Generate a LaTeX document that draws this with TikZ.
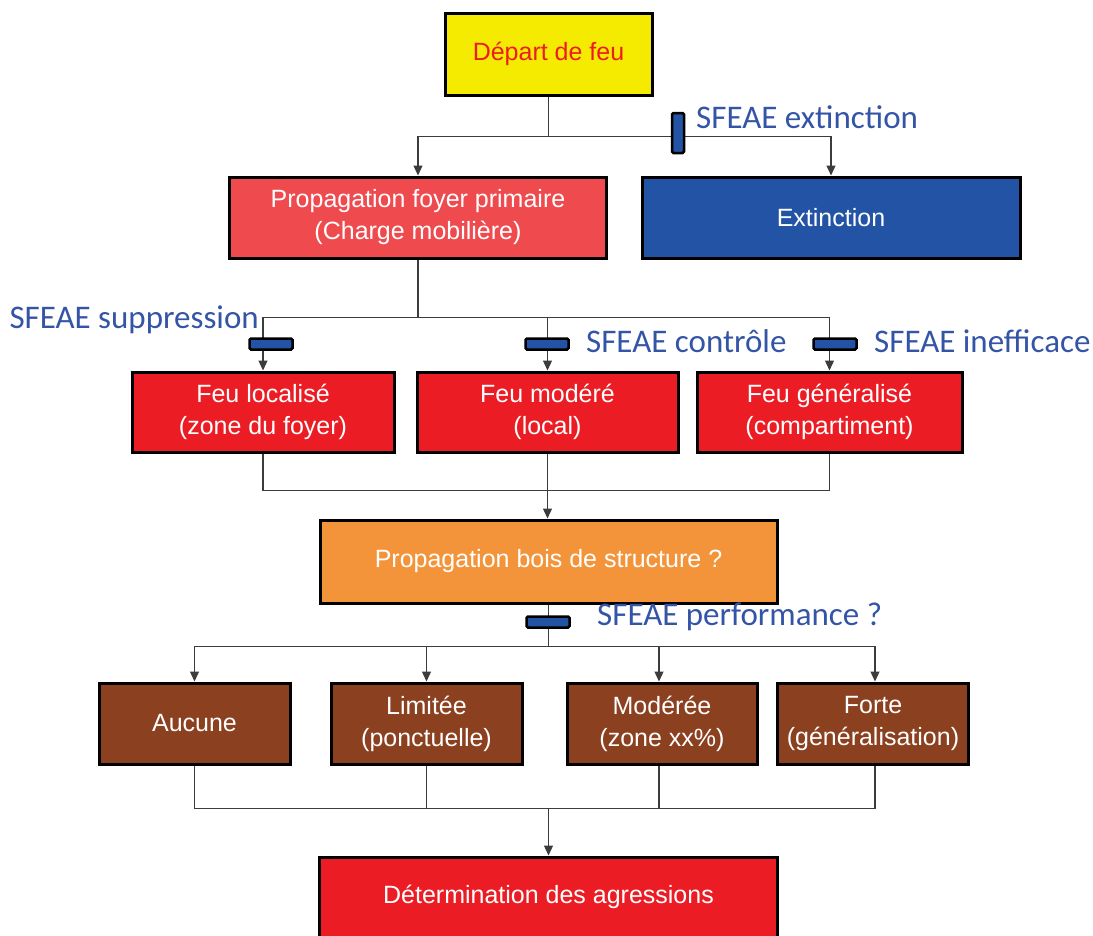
\documentclass[tikz,border=0pt]{standalone}
\usepackage{fontspec}
\setmainfont{Liberation Sans}
\newfontfamily\lblfont{Carlito}
\usetikzlibrary{arrows.meta,calc}
\definecolor{cyellow}{RGB}{245,235,0}
\definecolor{cpink}{RGB}{239,74,78}
\definecolor{cblue}{RGB}{35,83,165}
\definecolor{cred}{RGB}{236,28,36}
\definecolor{corange}{RGB}{244,148,58}
\definecolor{cbrown}{RGB}{139,64,32}
\definecolor{clbl}{RGB}{52,84,166}
\definecolor{cline}{RGB}{60,60,60}
\tikzset{
  box/.style={draw=black, line width=3pt, rectangle, align=center, text=white,
    font=\fontsize{25}{32}\selectfont, inner sep=0pt},
  conn/.style={draw=cline, line width=1.2pt},
  arr/.style={conn, -{Triangle[length=10pt,width=9pt]}},
  marker/.style={draw=black, fill=cblue, line width=2.5pt, rounded corners=1.5pt, inner sep=0pt},
  lbl/.style={text=clbl, font=\lblfont\fontsize{33}{38}\selectfont, inner sep=0pt}
}
\begin{document}
\begin{tikzpicture}[x=1pt,y=-1pt]
\useasboundingbox (0,0) rectangle (1093,935);
% boxes
\node[box, fill=cyellow, text=cred, minimum width=207, minimum height=82] (depart) at (548.5,54) {Départ de feu};
\node[box, fill=cpink, minimum width=377, minimum height=81] (foyer) at (418,217.5) {Propagation foyer primaire\\(Charge mobilière)};
\node[box, fill=cblue, minimum width=378, minimum height=81] (ext) at (831,217.5) {Extinction};
\node[box, fill=cred, minimum width=262, minimum height=80] (loc) at (263,412) {Feu localisé\\(zone du foyer)};
\node[box, fill=cred, minimum width=261, minimum height=80] (mod) at (547.5,412) {Feu modéré\\(local)};
\node[box, fill=cred, minimum width=265, minimum height=80] (gen) at (829.5,412) {Feu généralisé\\(compartiment)};
\node[box, fill=corange, minimum width=457, minimum height=83] (bois) at (548.5,561.5) {Propagation bois de structure ?};
\node[box, fill=cbrown, minimum width=191, minimum height=81] (aucune) at (194.5,723.5) {Aucune};
\node[box, fill=cbrown, minimum width=191, minimum height=81] (lim) at (426.5,723.5) {Limitée\\(ponctuelle)};
\node[box, fill=cbrown, minimum width=190, minimum height=81] (moder) at (662,723.5) {Modérée\\(zone xx\%)};
\node[box, fill=cbrown, minimum width=191, minimum height=81] (forte) at (873,723.5) {Forte\\(généralisation)};
\node[box, fill=cred, minimum width=458, minimum height=96] (deter) at (548.5,905) {};
\node[box, draw=none, fill=none] (detertxt) at (548.5,897) {Détermination des agressions};
% junctions
\coordinate (j1) at ($(depart.south)+(0,40)$);
\coordinate (j2) at ($(foyer.south)+(0,58)$);
\coordinate (j3) at ($(mod.south)+(0,37)$);
\coordinate (j4) at ($(bois.south)+(0,42)$);
\coordinate (j5) at ($(deter.north)+(0,-47)$);
% level 1
\draw[conn] (depart.south) -- (j1);
\draw[arr] (j1) -| (foyer.north);
\draw[arr] (j1) -| (ext.north);
\node[marker, minimum width=12, minimum height=40] (m1) at (678,133) {};
\node[lbl, anchor=west] (l1) at (696,117) {SFEAE extinction};
% level 2
\draw[conn] (foyer.south) -- (j2);
\draw[arr] (j2) -| (loc.north);
\draw[arr] (j2) -| (mod.north);
\draw[arr] (j2) -| (gen.north);
\node[marker, minimum width=43, minimum height=11] (m2) at (271,344) {};
\node[marker, minimum width=43, minimum height=11] (m3) at (547,344) {};
\node[marker, minimum width=43, minimum height=11] (m4) at (835,344) {};
\node[lbl, anchor=east] (l2) at (259,320) {SFEAE suppression};
\node[lbl, anchor=west] (l3) at (586,341) {SFEAE contrôle};
\node[lbl, anchor=west] (l4) at (874,341) {SFEAE inefficace};
% level 3
\draw[conn] (loc.south) |- (j3);
\draw[conn] (gen.south) |- (j3);
\draw[conn] (mod.south) -- (j3);
\draw[arr] (j3) -- (j3 |- bois.north);
% level 4
\draw[conn] (bois.south) -- (j4);
\draw[arr] (j4) -| (aucune.north);
\draw[arr] (j4) -| (lim.north);
\draw[arr] (j4) -| ([xshift=-3pt]moder.north);
\draw[arr] (j4) -| ([xshift=2pt]forte.north);
\node[marker, minimum width=43, minimum height=11] (m5) at (548,622) {};
\node[lbl, anchor=west] (l5) at (597,617) {SFEAE performance ?};
% level 5
\draw[conn] (aucune.south) |- (j5);
\draw[conn] (lim.south) |- (j5);
\draw[conn] ([xshift=-3pt]moder.south) |- (j5);
\draw[conn] ([xshift=2pt]forte.south) |- (j5);
\draw[arr] (j5) -- (deter.north);
\end{tikzpicture}
\end{document}
